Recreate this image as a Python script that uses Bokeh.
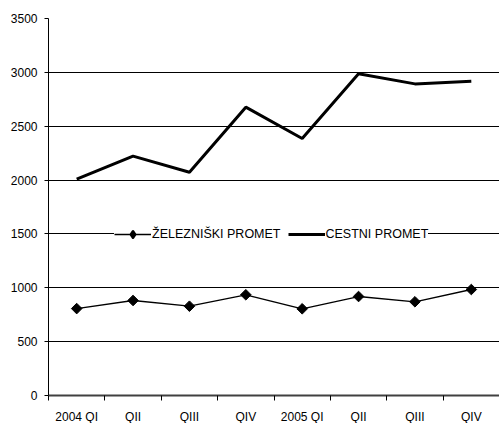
import math
from bokeh.plotting import figure
from bokeh.models import Range1d, FixedTicker, Legend, LegendItem
from bokeh.embed import file_html
from bokeh.resources import INLINE

quarters = ["2004 QI", "QII", "QIII", "QIV", "2005 QI", "QII", "QIII", "QIV"]
zelezniski = [807, 882, 829, 935, 805, 919, 870, 984]
cestni = [2008, 2222, 2073, 2677, 2386, 2987, 2893, 2918]
y_ticks = [0, 500, 1000, 1500, 2000, 2500, 3000, 3500]

FONT = "Liberation Sans"

xs = [i + 0.5 for i in range(len(quarters))]

p = figure(frame_width=451, frame_height=377, output_backend="svg", toolbar_location=None,
           x_range=Range1d(0, len(quarters)), y_range=Range1d(0, 3500),
           min_border_left=48, min_border_top=18, min_border_right=0, min_border_bottom=0)
p.outline_line_color = None
p.background_fill_color = "white"
p.border_fill_color = "white"

# x axis: labels at category centres, tick marks (minor) at category boundaries
p.xaxis.ticker = FixedTicker(ticks=xs, minor_ticks=list(range(len(quarters) + 1)))
p.xaxis.major_label_overrides = {x: q for x, q in zip(xs, quarters)}
p.xaxis.major_tick_out = 0
p.xaxis.major_tick_in = 0
p.xaxis.minor_tick_out = 5
p.xaxis.minor_tick_in = 0
p.xaxis.minor_tick_line_color = "black"
p.xaxis.axis_line_color = "#404040"
p.xaxis.axis_line_width = 2
p.xaxis.major_label_standoff = 9
p.xaxis.major_label_text_font = FONT
p.xaxis.major_label_text_font_size = "12px"
p.xaxis.major_label_text_color = "black"

p.yaxis.ticker = FixedTicker(ticks=y_ticks, minor_ticks=[])
p.yaxis.major_tick_out = 4
p.yaxis.major_tick_in = 0
p.yaxis.major_tick_line_color = "black"
p.yaxis.axis_line_color = "black"
p.yaxis.major_label_standoff = 7
p.yaxis.major_label_text_font = FONT
p.yaxis.major_label_text_font_size = "12px"
p.yaxis.major_label_text_color = "black"

p.xgrid.visible = False
p.ygrid.ticker = FixedTicker(ticks=y_ticks)
p.ygrid.grid_line_color = "black"
p.ygrid.grid_line_width = 1

r_zl = p.line(xs, zelezniski, line_color="black", line_width=1.3)
# legend-only marker (the legend does not rotate markers); zero size on the plot
r_zleg = p.scatter(xs, zelezniski, marker="diamond", size=0, fill_color="black",
                   line_color="black", line_width=2.5, line_join="round")
p.scatter(xs, zelezniski, marker="square", size=7.5, angle=math.pi / 4,
          fill_color="black", line_color="black")
r_c = p.line(xs, cestni, line_color="black", line_width=3)

legend = Legend(items=[LegendItem(label="ŽELEZNIŠKI PROMET", renderers=[r_zl, r_zleg]),
                       LegendItem(label="CESTNI PROMET", renderers=[r_c])],
                orientation="horizontal", location=(66, 153),
                glyph_width=37, glyph_height=16, label_standoff=1, spacing=7,
                padding=7, margin=0, border_line_color=None,
                background_fill_color="white", background_fill_alpha=1.0,
                label_text_font=FONT, label_text_font_size="12.5px", label_text_color="black",
                label_height=14)
p.add_layout(legend, "center")

open("out.html", "w").write(file_html(p, INLINE))
